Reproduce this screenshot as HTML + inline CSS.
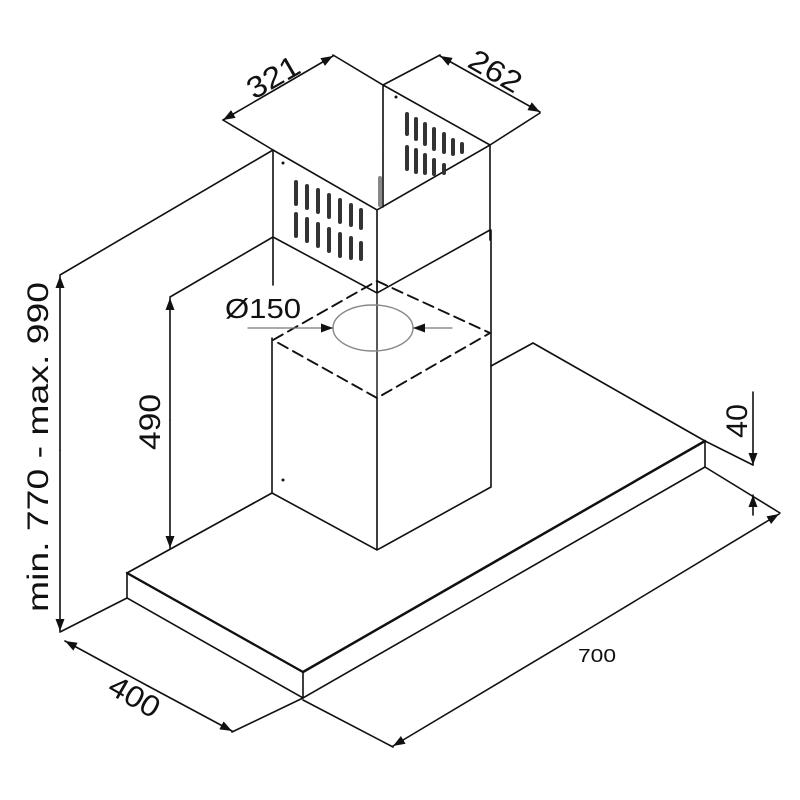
<!DOCTYPE html>
<html><head><meta charset="utf-8"><style>html,body{margin:0;padding:0;background:#fff}svg{display:block}</style></head>
<body>
<svg width="800" height="800" viewBox="0 0 800 800" xmlns="http://www.w3.org/2000/svg" font-family="Liberation Sans, Arial, sans-serif">
<defs>
<marker id="a" markerWidth="12" markerHeight="9" refX="12" refY="4.5" orient="auto" markerUnits="userSpaceOnUse"><path d="M0,0 L12,4.5 L0,9 z" fill="#111"/></marker>
</defs>
<g stroke="#111" stroke-width="1.6" fill="none" stroke-linecap="round">
<!-- canopy -->
<path d="M127,573 L303,672 L705,441 M127,573 L272,493 M533,343 L491,366 M533,343 L705,441" stroke-width="1.7"/>
<path d="M303,672 L705,441" stroke-width="2.5"/>
<path d="M127,573 L303,672" stroke-width="2.3"/>
<path d="M127,573 L127,598 L303,698 L705,467 L705,441 M303,672 L303,698"/>
<!-- lower chimney -->
<path d="M272,338 L272,493 L377,550 L491,487 L491,230 M377,398 L377,550"/>
<!-- upper chimney -->
<path d="M273,150 L273,285 M273,150 L377,210 L490,145 L490,240 M383,85 L490,145 M383,85 L383,207 M377,210 L377,293 M273,237 L377,293 L490,230"/>
<path d="M380,178 L380,205" stroke="#888" stroke-width="4"/>
<!-- dashed square -->
<path d="M377,281 L490,333 L377,398 L273,340 Z" stroke-dasharray="11,6" stroke-width="1.9"/>
<line x1="377" y1="281" x2="377" y2="398" stroke-width="1.4"/>
<ellipse cx="373" cy="328" rx="40" ry="23" stroke="#888" stroke-width="1.4"/>
<line x1="248" y1="328" x2="333" y2="328" stroke="#777" stroke-width="1.2" marker-end="url(#a)"/>
<line x1="452" y1="328" x2="413" y2="328" stroke="#777" stroke-width="1.2" marker-end="url(#a)"/>
<!-- dims -->
<path d="M60,275 L273,150 M170,297 L273,237 M60,632 L127,598 M232,732 L303,698 M303,700 L393,747 M705,467 L780,513 M705,441 L753,465"/>
<line x1="60" y1="450" x2="60" y2="276" marker-end="url(#a)"/>
<line x1="60" y1="450" x2="60" y2="631" marker-end="url(#a)"/>
<line x1="170" y1="420" x2="170" y2="298" marker-end="url(#a)"/>
<line x1="170" y1="420" x2="170" y2="548" marker-end="url(#a)"/>
<line x1="148" y1="686" x2="65" y2="641" marker-end="url(#a)"/>
<line x1="148" y1="686" x2="232" y2="731" marker-end="url(#a)"/>
<line x1="587" y1="630" x2="393" y2="746" marker-end="url(#a)"/>
<line x1="587" y1="630" x2="779" y2="514" marker-end="url(#a)"/>
<line x1="753" y1="392" x2="753" y2="465" marker-end="url(#a)"/>
<line x1="753" y1="515" x2="753" y2="495" marker-end="url(#a)"/>
<path d="M333,55 L383,85 M223,120 L273,150 M383,85 L440,55 M540,113 L490,145"/>
<line x1="278" y1="88" x2="223" y2="120" marker-end="url(#a)"/>
<line x1="278" y1="88" x2="333" y2="56" marker-end="url(#a)"/>
<line x1="490" y1="84" x2="440" y2="56" marker-end="url(#a)"/>
<line x1="490" y1="84" x2="540" y2="112" marker-end="url(#a)"/>
</g>
<!-- vent slots -->
<g stroke="#333" stroke-width="4" stroke-linecap="round" fill="none">
<path d="M296,182v22M307,186v22M318,190v22M329,195v22M340,200v22M351,205v20M361,210v18"/>
<path d="M296,214v22M307,219v22M318,224v22M329,229v22M340,234v22M351,238v20M361,243v16"/>
<path d="M407,114v20M416,119v20M425,124v20M434,129v20M444,134v18M453,140v14M462,144v8"/>
<path d="M407,147v22M416,150v22M425,155v18M434,160v14M444,165v8"/>
</g>
<circle cx="396" cy="97" r="1.5" fill="#111"/><circle cx="283" cy="163" r="1.5" fill="#111"/><circle cx="283" cy="480" r="1.5" fill="#111"/>
<g fill="#111" font-size="30">
<text x="0" y="0" transform="translate(48,612) rotate(-90)" textLength="330" lengthAdjust="spacingAndGlyphs">min. 770 - max. 990</text>
<text x="0" y="0" transform="translate(160,450) rotate(-90)" textLength="56" lengthAdjust="spacingAndGlyphs">490</text>
<text x="0" y="0" transform="translate(254,100) rotate(-30)" textLength="56" lengthAdjust="spacingAndGlyphs">321</text>
<text x="0" y="0" transform="translate(466,66) rotate(30)" textLength="56" lengthAdjust="spacingAndGlyphs">262</text>
<text x="0" y="0" transform="translate(106,692) rotate(30)" textLength="54" lengthAdjust="spacingAndGlyphs">400</text>
<text x="0" y="0" transform="translate(747,438) rotate(-90)" textLength="34" lengthAdjust="spacingAndGlyphs">40</text>
<text x="225" y="318" font-size="28" textLength="76" lengthAdjust="spacingAndGlyphs">Ø150</text>
<text x="578" y="662" font-size="18" textLength="38" lengthAdjust="spacingAndGlyphs">700</text>
</g>
</svg>
</body></html>
